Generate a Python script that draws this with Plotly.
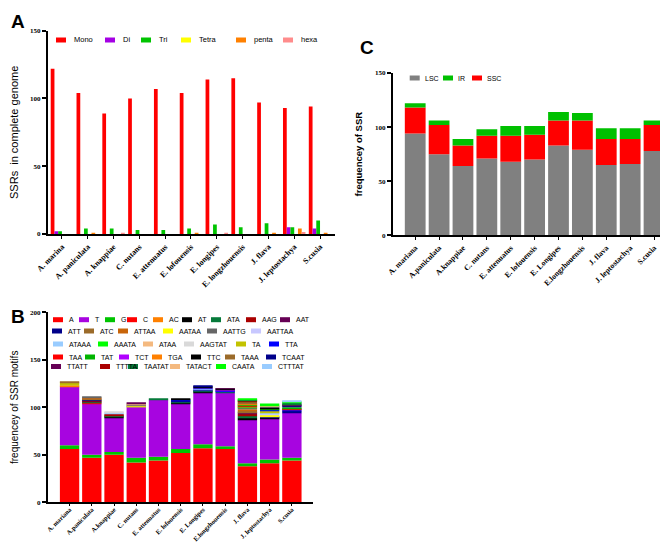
import numpy as np
import plotly.graph_objects as go

# ---------------- data ----------------
species_a = ["A. marina", "A. paniculata", "A. knappiae", "C. nutans", "E. attenuatus",
             "E. lofouensis", "E. longipes", "E. longzhouensis", "J. flava",
             "J. leptostachya", "S.cusia"]
species_bc = ["A. mariana", "A.paniculata", "A.knappiae", "C. nutans", "E. attenuatus",
              "E. lofouensis", "E. Longipes", "E.longzhouensis", "J. flava",
              "J. leptostachya", "S.cusia"]

# Panel A: SSR type counts
ssr_types = ["Mono", "Di", "Tri", "Tetra", "penta", "hexa"]
mono = [122, 104, 89, 100, 107, 104, 114, 115, 97, 93, 94]
di = [2, 0, 0, 0, 0, 0, 0, 0, 0, 5, 4]
tri = [2, 4, 4, 3, 3, 4, 7, 5, 8, 5, 10]
tetra = [0, 0, 0, 0, 0, 0, 0, 0, 0, 0, 0]
penta = [0, 1, 0, 0, 0, 0.5, 0, 0, 1, 4, 1]
hexa = [0, 0, 1, 0, 0, 0, 0.5, 0, 0, 1.5, 0]

# Panel B: SSR motif counts (stack order bottom->top)
m_A = [56, 47, 50, 42, 44, 52, 57, 56, 38, 41, 44]
m_G = [4, 3, 3, 5, 4, 4, 4, 3, 3, 4, 3]
m_T = [62, 54, 36, 53, 60, 48, 54, 56, 46, 43, 47]
m_C = [0, 1, 0, 0, 0, 0, 0, 0, 0, 0, 0]
m_AC = [1, 0, 0, 0, 0, 0, 0, 0, 0, 0, 0]
m_AT = [0, 0, 1, 0, 0, 1, 1, 0, 2, 1, 0]
m_ATA = [0, 1, 1, 0, 1, 1, 1, 1, 2, 0, 0]
m_AAG = [0, 1, 2, 0, 0, 0, 0, 0, 2, 0, 0]
m_AAT = [0, 0, 0, 1, 0, 0, 0, 0, 1, 0, 0]
m_ATT = [0, 1, 0, 0, 0, 1, 1, 0, 0, 1, 2]
m_ATC = [0, 1, 0, 0, 0, 0, 0, 0, 2, 0, 0]
m_ATTAA = [0, 1, 0, 0, 0, 0, 0, 0, 2, 0, 0]
m_AATAA = [0, 0, 0, 1, 0, 0, 0, 0, 0, 2, 0]
m_AATTG = [0, 1, 0, 1, 0, 0, 0, 0, 1, 0, 0]
m_AATTAA = [0, 0, 0, 0, 0, 0, 0, 0, 0, 1, 0]
m_ATAAA = [0, 0, 1, 0, 0, 0, 1, 0, 0, 1, 0]
m_AAATA = [0, 0, 0, 0, 0, 0, 0, 0, 1, 0, 0]
m_ATAA = [0, 0, 0, 1, 0, 0, 0, 0, 0, 0, 0]
m_AAGTAT = [0, 0, 1, 0, 0, 0, 0, 0, 0, 0, 0]
m_TA = [3, 0, 0, 0, 0, 0, 0, 0, 1, 2, 0]
m_TTA = [0, 0, 0, 0, 0, 1, 1, 1, 0, 1, 1]
m_TAA = [0, 0, 0, 0, 0, 0, 0, 0, 1, 0, 1]
m_TAT = [0, 0, 0, 0, 0, 0, 0, 0, 1, 1, 2]
m_TCT = [0, 0, 0, 0, 0, 0, 1, 1, 0, 0, 0]
m_TGA = [0, 0, 0, 0, 0, 0, 0, 0, 1, 0, 0]
m_TTC = [0, 0, 0, 0, 0, 1, 1, 1, 0, 2, 0]
m_TAAA = [1, 0, 0, 0, 0, 0, 0, 0, 2, 0, 0]
m_TCAAT = [0, 0, 0, 0, 0, 0, 1, 0, 0, 1, 2]
m_TTATT = [0, 0, 0, 1, 0, 0, 0, 1, 0, 0, 1]
m_TTTTA = [0, 0, 0, 0, 0, 0, 0, 0, 1, 0, 0]
m_TAATAT = [0, 0, 0, 0, 0, 0, 0, 0, 1, 0, 2]
m_TATACT = [0, 0, 0, 0, 0, 0, 0, 0, 0, 1, 0]
m_CAATA = [0, 0, 0, 0, 0, 0, 0, 0, 1, 2, 1]
m_CTTTAT = [0, 0, 0, 0, 0, 0, 0, 0, 0, 0, 1]

# Panel C: region counts
lsc = [94, 75, 64, 71, 68, 70, 83, 79, 65, 66, 78]
ssc = [24, 27, 19, 21, 24, 23, 23, 27, 24, 23, 24]
ir = [4, 4, 6, 6, 9, 8, 8, 7, 10, 10, 4]

# ---------------- styles ----------------
W, H = 668, 543
def px(x):
    return x / W
def py(y):
    return 1 - y / H

colors_a = ["#ff0000", "#a400e4", "#00c400", "#ffff00", "#ff8000", "#ff8c8c"]

motifs = [
    ("A", m_A, "#ff0000"), ("G", m_G, "#00c400"), ("T", m_T, "#a705e0"),
    ("C", m_C, "#ff0000"), ("AC", m_AC, "#ff8000"), ("AT", m_AT, "#000000"),
    ("ATA", m_ATA, "#067a3a"), ("AAG", m_AAG, "#aa0000"), ("AAT", m_AAT, "#660055"),
    ("ATT", m_ATT, "#00008a"), ("ATC", m_ATC, "#9b6b2a"), ("ATTAA", m_ATTAA, "#c8650a"),
    ("AATAA", m_AATAA, "#ffff00"), ("AATTG", m_AATTG, "#666666"), ("AATTAA", m_AATTAA, "#c8c8ff"),
    ("ATAAA", m_ATAAA, "#99ccff"), ("AAATA", m_AAATA, "#00ff00"), ("ATAA", m_ATAA, "#f4b97f"),
    ("AAGTAT", m_AAGTAT, "#d9d9d9"), ("TA", m_TA, "#c2c200"), ("TTA", m_TTA, "#0000ff"),
    ("TAA", m_TAA, "#ff0000"), ("TAT", m_TAT, "#00b400"), ("TCT", m_TCT, "#b000ff"),
    ("TGA", m_TGA, "#ff8000"), ("TTC", m_TTC, "#000000"), ("TAAA", m_TAAA, "#9b6b2a"),
    ("TCAAT", m_TCAAT, "#00008a"), ("TTATT", m_TTATT, "#660055"), ("TTTTA", m_TTTTA, "#aa0000"),
    ("TAATAT", m_TAATAT, "#067a3a"), ("TATACT", m_TATACT, "#f4b97f"), ("CAATA", m_CAATA, "#00ff00"),
    ("CTTTAT", m_CTTTAT, "#99ccff"),
]
motif_color = {n: c for n, _, c in motifs}

fig = go.Figure()

# Panel A (grouped)
for name, vals, col in zip(ssr_types, [mono, di, tri, tetra, penta, hexa], colors_a):
    fig.add_trace(go.Bar(x=species_a, y=vals, name=name, xaxis="x", yaxis="y",
                         marker=dict(color=col, line=dict(width=0)), showlegend=False))

# Panel B (stacked via base)
cum = np.zeros(len(species_bc))
for name, vals, col in motifs:
    v = np.array(vals, dtype=float)
    fig.add_trace(go.Bar(x=species_bc, y=v, base=cum.copy(), name=name, offsetgroup="b",
                         xaxis="x2", yaxis="y2",
                         marker=dict(color=col, line=dict(width=0)), showlegend=False))
    cum += v

# Panel C (stacked via base)
cumc = np.zeros(len(species_bc))
for name, vals, col in [("LSC", lsc, "#808080"), ("SSC", ssc, "#ff0000"), ("IR", ir, "#00c000")]:
    v = np.array(vals, dtype=float)
    fig.add_trace(go.Bar(x=species_bc, y=v, base=cumc.copy(), name=name, offsetgroup="c",
                         xaxis="x3", yaxis="y3",
                         marker=dict(color=col, line=dict(width=0)), showlegend=False))
    cumc += v

# ---------------- axes ----------------
def serif(size):
    return dict(family="Liberation Serif", size=size, color="black", weight="bold")

def xax(domain, rng, fsize, ticklen=3):
    return dict(domain=domain, range=rng, type="category", showline=True, linecolor="black",
                linewidth=2, ticks="outside", ticklen=ticklen, tickwidth=1, tickcolor="black",
                tickangle=-45, tickfont=serif(fsize), showgrid=False, zeroline=False,
                fixedrange=True)

def yax(domain, rng, dtick, anchor, title, tfont, standoff):
    return dict(domain=domain, range=rng, dtick=dtick, tick0=0, anchor=anchor, showline=True,
                linecolor="black", linewidth=2, ticks="outside", ticklen=4, tickwidth=1.5,
                tickcolor="black", tickfont=serif(7), showgrid=False, zeroline=False,
                title=dict(text=title, font=tfont, standoff=standoff))

fig.update_layout(
    width=W, height=H, template="none",
    paper_bgcolor="white", plot_bgcolor="white",
    margin=dict(l=0, r=0, t=0, b=0),
    barmode="group", bargap=0.13, bargroupgap=0,
    showlegend=False,
    xaxis=xax([px(40), px(327)], [-0.54, 10.58], 8) | dict(anchor="y"),
    yaxis=yax([py(226), py(22.7)], [0, 150], 50, "x", "SSRs  in complete genome",
              dict(family="Liberation Sans", size=11, color="black"), 17),
    xaxis2=xax([px(40), px(305)], [-0.97, 10.95], 6.5, 2) | dict(anchor="y2", ticklabelstandoff=-3),
    yaxis2=yax([py(494.3), py(304.3)], [0, 200], 50, "x2", "frequencey of SSR motifs",
               dict(family="Liberation Sans", size=10, color="black"), 10),
    xaxis3=xax([px(385), px(668)], [-0.93, 10.92], 7.8) | dict(anchor="y3"),
    yaxis3=yax([py(227.3), py(65)], [0, 150], 50, "x3", "frequencey of SSR",
               dict(family="Liberation Sans", size=9.5, color="black", weight="bold"), 11),
)

# ---------------- panel letters ----------------
for letter, (lx, ly) in {"A": (10, 13.5), "B": (9.5, 308.5), "C": (359, 39)}.items():
    fig.add_annotation(text=letter, x=px(lx), y=py(ly), xref="paper", yref="paper",
                       showarrow=False, xanchor="center", yanchor="middle",
                       font=dict(family="Liberation Sans", size=19, color="black", weight="bold"))

# ---------------- legends (drawn as swatch + label) ----------------
legend_a = (32, 6, 7.5, [("Mono", 48), ("Di", 97), ("Tri", 133), ("Tetra", 173),
                         ("penta", 228), ("hexa", 275)])
legend_b_rows = [
    (311.7, [("A", 45), ("T", 71), ("G", 97), ("C", 119), ("AC", 145), ("AT", 174),
             ("ATA", 203), ("AAG", 238), ("AAT", 272)]),
    (323, [("ATT", 44), ("ATC", 76), ("ATTAA", 110), ("AATAA", 155), ("AATTG", 199),
           ("AATTAA", 243)]),
    (336, [("ATAAA", 45), ("AAATA", 90), ("ATAA", 135), ("AAGTAT", 176), ("TA", 228),
           ("TTA", 261)]),
    (349, [("TAA", 45), ("TAT", 77), ("TCT", 111), ("TGA", 144), ("TTC", 183),
           ("TAAA", 217), ("TCAAT", 258)]),
    (358.5, [("TTATT", 43), ("TTTTA", 92), ("TAATAT", 120), ("TATACT", 162),
             ("CAATA", 208), ("CTTTAT", 254)]),
]
legend_c = (70, 3, 7, [("LSC", 401.7), ("IR", 435), ("SSC", 464)])
colors_c = {"LSC": "#808080", "IR": "#00c000", "SSC": "#ff0000"}

def draw_item(label, x, y, col, gap, fsize):
    fig.add_shape(type="rect", xref="paper", yref="paper",
                  x0=px(x), x1=px(x + 10), y0=py(y + 2.5), y1=py(y - 2.5),
                  fillcolor=col, line=dict(width=0))
    fig.add_annotation(text=label, x=px(x + 10 + gap), y=py(y), xref="paper", yref="paper",
                       showarrow=False, xanchor="left", yanchor="middle",
                       font=dict(family="Liberation Sans", size=fsize, color="black"))

ya, gapa, fa, items_a = legend_a
for (lab, x), col in zip(items_a, colors_a):
    draw_item(lab, x, ya, col, gapa, fa)
for yrow, items in legend_b_rows:
    for lab, x in items:
        draw_item(lab, x, yrow, motif_color[lab], 4, 7)
yc, gapc, fc, items_c = legend_c
for lab, x in items_c:
    draw_item(lab, x, yc, colors_c[lab], gapc, fc)

fig.write_html("out.html")
